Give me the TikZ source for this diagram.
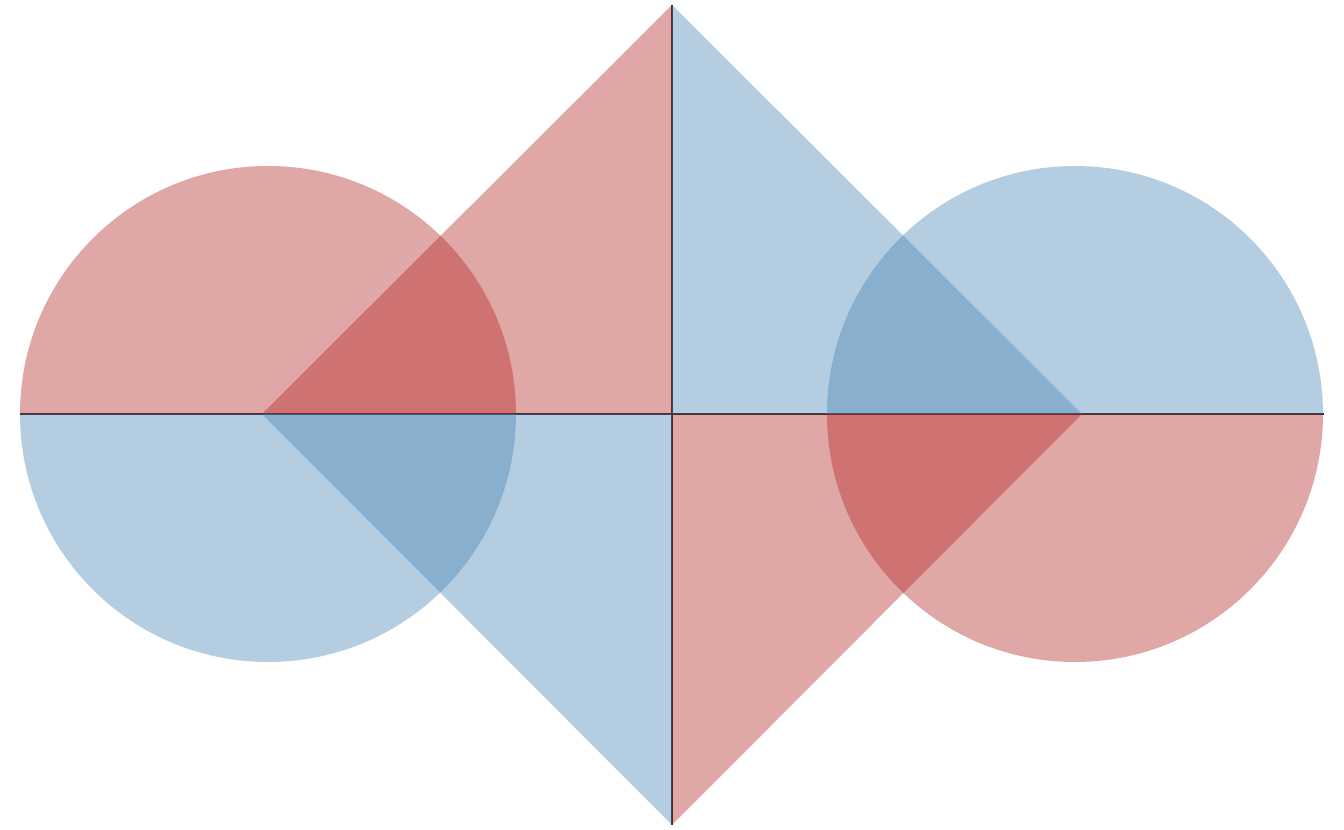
\documentclass[tikz,border=0pt]{standalone}
\usetikzlibrary{calc}
\definecolor{firebrick}{RGB}{178,34,34}
\definecolor{steelblue}{RGB}{70,130,180}
\begin{document}
\begin{tikzpicture}[
  x=0.01cm, y=0.01cm,
  axis/.style={draw=black!85, line width=0.6pt},
  redpart/.style={fill=firebrick, fill opacity=0.4},
  bluepart/.style={fill=steelblue, fill opacity=0.4}
]
  \useasboundingbox (-672,-416) rectangle (672,414);
  % points
  \coordinate (O) at (0,0);
  \coordinate (top) at (0,409);
  \coordinate (bot) at (0,-411);
  \coordinate (lv) at (-410,0);
  \coordinate (rv) at (410,0);
  \coordinate (lc) at (-404,0);
  \coordinate (rc) at (403,0);
  % axes
  \draw[axis] (-652,0) -- (652,0);
  \draw[axis] (top) -- (bot);
  % left circle
  \fill[redpart] ($(lc)+(-248,0)$) arc[start angle=180, end angle=0, radius=248] -- cycle;
  \fill[bluepart] ($(lc)+(-248,0)$) arc[start angle=180, end angle=360, radius=248] -- cycle;
  % right circle
  \fill[bluepart] ($(rc)+(-248,0)$) arc[start angle=180, end angle=0, radius=248] -- cycle;
  \fill[redpart] ($(rc)+(-248,0)$) arc[start angle=180, end angle=360, radius=248] -- cycle;
  % triangles
  \fill[redpart] (lv) -- (top) -- (O) -- cycle;
  \fill[bluepart] (lv) -- (bot) -- (O) -- cycle;
  \fill[bluepart] (rv) -- (top) -- (O) -- cycle;
  \fill[redpart] (rv) -- (bot) -- (O) -- cycle;
\end{tikzpicture}
\end{document}
